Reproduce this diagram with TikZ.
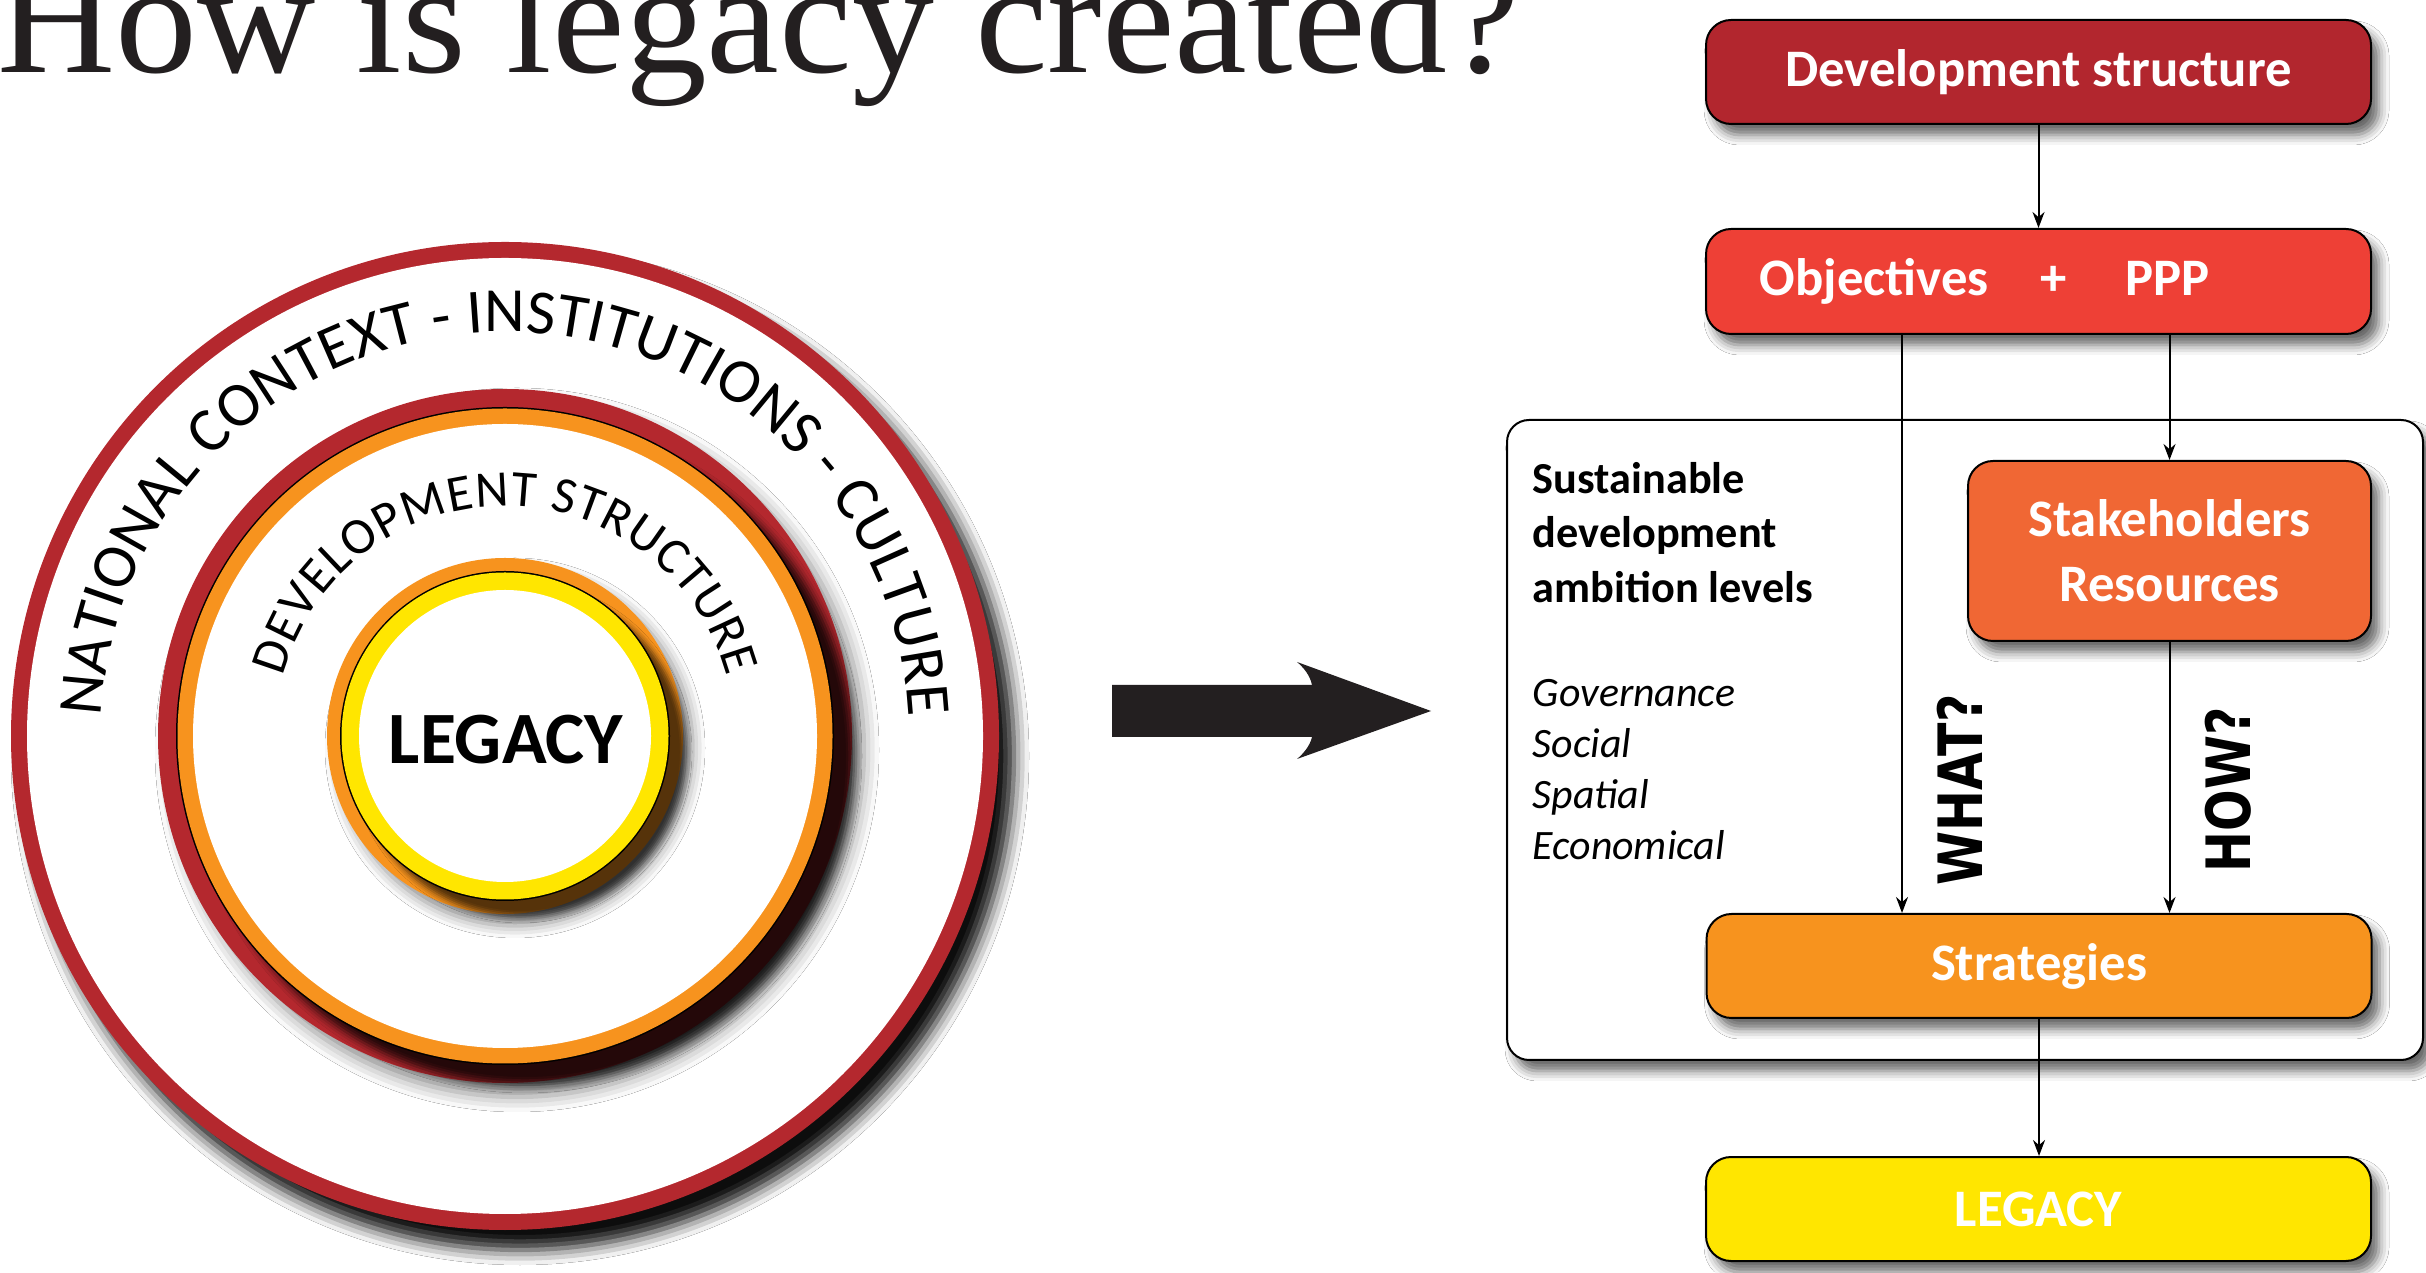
\documentclass[tikz,border=0pt]{standalone}
\usepackage{fontspec}
\newfontfamily\carlito{Carlito}
\newfontfamily\serifT{Liberation Serif}
\newfontfamily\dvs{DejaVu Sans}
\usetikzlibrary{arrows.meta,shadows.blur,decorations.text,calc}
\definecolor{ringred}{RGB}{180,40,46}
\definecolor{devred}{RGB}{178,38,46}
\definecolor{objred}{RGB}{238,64,54}
\definecolor{stakeor}{RGB}{240,103,52}
\definecolor{stratorange}{RGB}{247,147,30}
\definecolor{legyellow}{RGB}{255,230,0}
\definecolor{arrowblack}{RGB}{35,31,32}
\newcommand\fsz[2]{\fontsize{#1}{#2}\selectfont}
\begin{document}
\begin{tikzpicture}[x=0.1mm,y=0.1mm,
  box/.style={draw=black, line width=0.2mm, rounded corners=2.5mm, minimum width=66.5mm,
    minimum height=10.4mm, inner sep=0pt, text=white,
    font=\carlito\bfseries\fsz{15pt}{18pt},
    blur shadow={shadow xshift=0.8mm, shadow yshift=-1.1mm, shadow blur radius=1mm, shadow opacity=60}},
  frame/.style={draw=black, line width=0.2mm, rounded corners=2.2mm, fill=white,
    blur shadow={shadow xshift=0.8mm, shadow yshift=-1.1mm, shadow blur radius=1mm, shadow opacity=60}},
  conn/.style={line width=0.2mm, -{Stealth[length=1.6mm,width=1.2mm]}},
  qlabel/.style={rotate=90, inner sep=0pt, font=\dvs\bfseries\fsz{17.4pt}{20pt}},
]
\useasboundingbox (0,0) rectangle (2426,1272);
\fill[white] (0,0) rectangle (2426,1272);
\begin{scope}
\clip (0,0) rectangle (2426,1272);

% title
\node[anchor=base west, inner sep=0pt, font=\serifT\fsz{45pt}{50pt}, text=arrowblack] (title) at (-3,1199) {\scalebox{1.035}[1]{How is legacy created?}};

% ---------- concentric circles ----------
\coordinate (C) at (505,536);
% outer
\fill[ringred, blur shadow={shadow xshift=1.5mm, shadow yshift=-2mm, shadow blur radius=1.5mm, shadow opacity=95}] (C) circle[radius=494];
\fill[white] (C) circle[radius=478];
% middle
\fill[ringred, blur shadow={shadow xshift=1.2mm, shadow yshift=-1.4mm, shadow blur radius=1.5mm, shadow opacity=45}] (C) circle[radius=347];
\path[blur shadow={shadow xshift=2mm, shadow yshift=-2mm, shadow blur radius=0.8mm, shadow opacity=80}] (C) circle[radius=329];
\fill[black] (C) circle[radius=329];
\fill[stratorange] (C) circle[radius=327.5];
\fill[white] (C) circle[radius=312];
% inner
\fill[stratorange, blur shadow={shadow xshift=1mm, shadow yshift=-1.2mm, shadow blur radius=1.2mm, shadow opacity=45}] (C) circle[radius=178];
\path[blur shadow={shadow xshift=1.6mm, shadow yshift=-1.6mm, shadow blur radius=0.6mm, shadow opacity=65}] (C) circle[radius=165];
\fill[black] (C) circle[radius=165];
\fill[legyellow] (C) circle[radius=163.5];
\fill[white] (C) circle[radius=146];

\node[inner sep=0pt, font=\carlito\bfseries\fsz{21pt}{24pt}] (core) at (506,532) {LEGACY};

\path[decorate, decoration={text along path, text align=fit to path,
  text={|\carlito\fsz{17.9pt}{20pt}|NATIONAL CONTEXT - INSTITUTIONS - CULTURE}}]
  ($(C)+(177.3:404)$) arc[start angle=177.3, end angle=2.7, radius=404];
\path[decorate, decoration={text along path, text align=fit to path,
  text={|\carlito\fsz{14.6pt}{17pt}|DEVELOPMENT STRUCTURE}}]
  ($(C)+(165:230)$) arc[start angle=165, end angle=15, radius=230];

% ---------- big arrow ----------
\fill[arrowblack] (1112,587) -- (1312,587) .. controls (1310,597) and (1303,605) .. (1297,610)
  -- (1431,561) -- (1297,513) .. controls (1303,518) and (1310,526) .. (1312,535)
  -- (1112,535) -- cycle;

% ---------- flow chart ----------
\node[frame, minimum width=91.6mm, minimum height=64mm] (frm) at (1965,532) {};

\node[box, fill=devred] (dev) at (2038.5,1200) {Development structure};
\node[box, fill=objred, minimum height=10.5mm] (obj) at (2038.5,990.5)
  {Objectives\hspace{5.2mm}+\hspace{5.9mm}PPP\hspace*{10.7mm}};
\node[box, fill=stakeor, minimum width=40.3mm, minimum height=18mm, align=center,
  font=\carlito\bfseries\fsz{15pt}{18.6pt}] (stake) at (2169.5,721) {Stakeholders\\Resources};
\node[box, fill=stratorange] (strat) at (2039,306) {Strategies};
\node[box, fill=legyellow] (leg) at (2038.5,63) {LEGACY};

\node[anchor=north west, align=left, inner sep=0pt, font=\carlito\bfseries\fsz{12.6pt}{15.4pt}] (ambition)
  at (1532,810) {Sustainable\\development\\ambition levels};
\node[anchor=north west, align=left, inner sep=0pt, font=\carlito\itshape\fsz{11.9pt}{14.5pt}] (levels)
  at (1532,593) {Governance\\Social\\Spatial\\Economical};

\node[qlabel] (what) at (1960,482) {\scalebox{0.8}[1]{WHAT?}};
\node[qlabel] (how) at (2228.5,482) {\scalebox{0.8}[1]{HOW?}};

\coordinate (wx) at (1902,0);
\draw[conn] (dev.south) -- (obj.north);
\draw[conn] (obj.south -| wx) -- (strat.north -| wx);
\draw[conn] (obj.south -| stake.north) -- (stake.north);
\draw[conn] (stake.south) -- (strat.north -| stake.south);
\draw[conn] (strat.south) -- (strat.south |- leg.north);
\end{scope}
\end{tikzpicture}
\end{document}
